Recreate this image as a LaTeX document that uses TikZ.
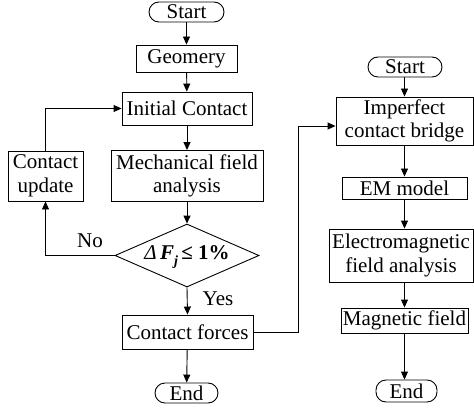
\documentclass[tikz,border=0pt]{standalone}
\usepackage{fontspec}
\setmainfont{Liberation Serif}
\usetikzlibrary{shapes.geometric,arrows.meta}
\begin{document}
\begin{tikzpicture}[x=1pt,y=-1pt,
  every node/.style={font=\fontsize{21}{23.5}\selectfont, inner sep=0pt, align=center},
  box/.style={draw, line width=0.9pt},
  oval/.style={draw, line width=0.9pt, rounded corners=10pt},
  arr/.style={line width=0.9pt, -{Triangle[length=8pt,width=7pt]}}]
\useasboundingbox (0,0) rectangle (474,409);
% left column
\node[oval, minimum width=75, minimum height=20] (s1) at (186.5,12) {Start};
\node[box, minimum width=101, minimum height=27] (geo) at (186.5,58.5) {Geomery};
\node[box, minimum width=130, minimum height=33] (ic) at (187,108.5) {Initial Contact};
\node[box, minimum width=75, minimum height=50] (cu) at (45.5,176) {Contact\\update};
\node[box, minimum width=152, minimum height=51] (mfa) at (187,176) {Mechanical field\\analysis};
\node[draw, line width=0.9pt, shape=diamond, minimum width=144, minimum height=63, inner sep=0pt] (dec) at (187,255.5) {};
\node at (187,257) {{\itshape Δ}\,{\bfseries\itshape F}\raisebox{-0.3em}{\fontsize{14}{14}\selectfont\bfseries\itshape j}\,\textbf{≤ 1\%}};
\node[box, minimum width=131, minimum height=34] (cf) at (187.5,332) {Contact forces};
\node[oval, minimum width=63, minimum height=20] (e1) at (186.5,393) {End};
\node (no) at (90,241) {No};
\node (yes) at (218,299) {Yes};
% right column
\node[oval, minimum width=74, minimum height=20] (s2) at (405,67) {Start};
\node[box, minimum width=137, minimum height=48] (imp) at (404.5,121) {Imperfect\\contact bridge};
\node[box, minimum width=125, minimum height=22] (em) at (404.5,188) {EM model};
\node[box, minimum width=144, minimum height=53] (efa) at (401,255.5) {Electromagnetic\\field analysis};
\node[box, minimum width=127, minimum height=25] (mf) at (404.5,320.5) {Magnetic field};
\node[oval, minimum width=61, minimum height=22] (e2) at (406.5,391) {End};
% connectors left
\draw[arr] (s1) -- (geo);
\draw[arr] (geo) -- (ic);
\draw[arr] (ic) -- (mfa);
\draw[arr] (mfa) -- (dec);
\draw[arr] (dec.west) -| (cu.south);
\draw[arr] (cu.north) |- (ic.west);
\draw[arr] (dec.south) -- (cf.north);
\draw[arr] (cf) -- (e1);
\coordinate (bend) at (298,332);
\draw[arr] (cf.east) -- (bend) |- ([yshift=-5pt]imp.west);
% connectors right
\draw[arr] (s2.south -| imp.north) -- (imp.north);
\draw[arr] (imp.south) -- (em.north);
\draw[arr] (em.south) -- (efa.north -| em.south);
\draw[arr] (efa.south -| em.south) -- (mf.north);
\draw[arr] (mf.south) -- (e2.north -| mf.south);
\end{tikzpicture}
\end{document}
